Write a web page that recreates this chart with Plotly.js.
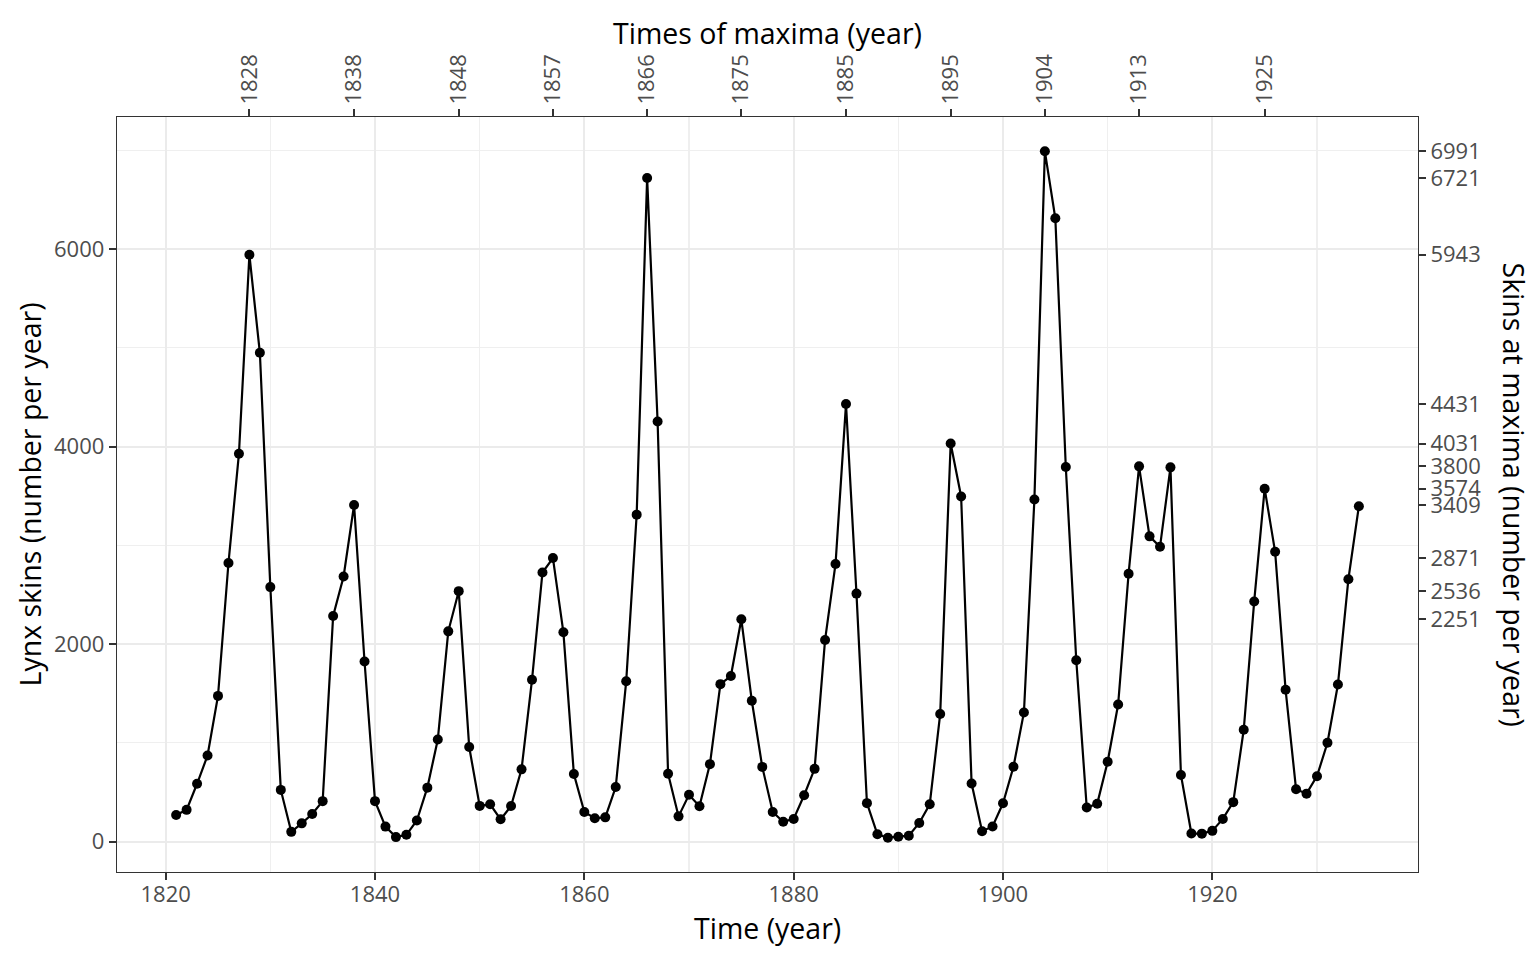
<!DOCTYPE html>
<html>
<head>
<meta charset="utf-8">
<script src="https://cdn.plot.ly/plotly-3.0.1.min.js"></script>
<style>
  html, body { margin: 0; padding: 0; background: #fff; }
  #myDiv { width: 1536px; height: 960px; }
</style>
</head>
<body>
<div id="myDiv"></div>
<script>
// lynx skins per year, 1821-1934
var years = [];
for (var y = 1821; y <= 1934; y++) years.push(y);

var skins = [
  269, 321, 585, 871, 1475, 2821, 3928, 5943, 4950, 2577,
  523, 98, 184, 279, 409, 2285, 2685, 3409, 1824, 409,
  151, 45, 68, 213, 546, 1033, 2129, 2536, 957, 361,
  377, 225, 360, 731, 1638, 2725, 2871, 2119, 684, 299,
  236, 245, 552, 1623, 3311, 6721, 4254, 687, 255, 473,
  358, 784, 1594, 1676, 2251, 1426, 756, 299, 201, 229,
  469, 736, 2042, 2811, 4431, 2511, 389, 73, 39, 49,
  59, 188, 377, 1292, 4031, 3495, 587, 105, 153, 387,
  758, 1307, 3465, 6991, 6313, 3794, 1836, 345, 382, 808,
  1388, 2713, 3800, 3091, 2985, 3790, 674, 81, 80, 108,
  229, 399, 1132, 2432, 3574, 2935, 1537, 529, 485, 662,
  1000, 1590, 2657, 3396
];

// secondary axes: times and sizes of the maxima
var maxYears = [1828, 1838, 1848, 1857, 1866, 1875, 1885, 1895, 1904, 1913, 1925];
var maxSkins = [5943, 3409, 2536, 2871, 6721, 2251, 4431, 4031, 6991, 3800, 3574];

var xTicks = [1820, 1840, 1860, 1880, 1900, 1920];
var yTicks = [0, 2000, 4000, 6000];

var xRange = [1815.35, 1939.65];
var yRange = [-308.6, 7338.6];

var tickFont = {family: 'Open Sans', size: 22, color: '#4D4D4D'};
var titleFont = {family: 'Open Sans', size: 28.5, color: '#000000'};

var trace = {
  x: years,
  y: skins,
  type: 'scatter',
  mode: 'lines+markers',
  line: {color: '#000000', width: 2.2},
  marker: {color: '#000000', size: 10},
  hoverinfo: 'x+y'
};

var layout = {
  width: 1536,
  height: 960,
  margin: {l: 117, r: 118, t: 117, b: 88},
  paper_bgcolor: '#ffffff',
  plot_bgcolor: '#ffffff',
  showlegend: false,
  xaxis: {
    range: xRange,
    tickvals: xTicks,
    ticks: 'outside', ticklen: 7, tickwidth: 2, tickcolor: '#333333',
    ticklabelstandoff: -5,
    tickfont: tickFont,
    showgrid: true, gridcolor: '#EBEBEB', gridwidth: 2,
    minor: {dtick: 10, tick0: 1820, showgrid: true, gridcolor: '#EFEFEF', gridwidth: 1.1, ticks: ''},
    zeroline: false,
    showline: true, mirror: true, linecolor: '#333333', linewidth: 1.3
  },
  yaxis: {
    range: yRange,
    tickvals: yTicks,
    ticks: 'outside', ticklen: 7, tickwidth: 2, tickcolor: '#333333',
    tickfont: tickFont,
    showgrid: true, gridcolor: '#EBEBEB', gridwidth: 2,
    minor: {dtick: 1000, tick0: 0, showgrid: true, gridcolor: '#EFEFEF', gridwidth: 1.1, ticks: ''},
    zeroline: false,
    showline: true, mirror: true, linecolor: '#333333', linewidth: 1.3
  },
  xaxis2: {
    overlaying: 'x', side: 'top', anchor: 'y',
    range: xRange,
    tickvals: maxYears,
    ticktext: maxYears.map(String),
    tickangle: -90,
    ticks: 'outside', ticklen: 7, tickwidth: 2, tickcolor: '#333333',
    tickfont: tickFont,
    showgrid: false, zeroline: false, showline: false
  },
  yaxis2: {
    overlaying: 'y', side: 'right', anchor: 'x',
    range: yRange,
    tickvals: maxSkins,
    ticktext: maxSkins.map(String),
    ticks: 'outside', ticklen: 7, tickwidth: 2, tickcolor: '#333333',
    tickfont: tickFont,
    showgrid: false, zeroline: false, showline: false
  },
  annotations: [
    {text: 'Time (year)', xref: 'paper', yref: 'paper', x: 0.5, y: 0,
     xanchor: 'center', yanchor: 'middle',
     yshift: -56, showarrow: false, font: titleFont},
    {text: 'Times of maxima (year)', xref: 'paper', yref: 'paper', x: 0.5, y: 1,
     xanchor: 'center', yanchor: 'middle',
     yshift: 84, showarrow: false, font: titleFont},
    {text: 'Lynx skins (number per year)', xref: 'paper', yref: 'paper', x: 0, y: 0.5,
     xanchor: 'center', yanchor: 'middle',
     xshift: -88, textangle: -90, showarrow: false, font: titleFont},
    {text: 'Skins at maxima (number per year)', xref: 'paper', yref: 'paper', x: 1, y: 0.5,
     xanchor: 'center', yanchor: 'middle',
     xshift: 96, textangle: 90, showarrow: false, font: titleFont}
  ]
};

// invisible traces so the secondary axes are drawn
var topTrace = {x: [xRange[0]], y: [yRange[0]], xaxis: 'x2', yaxis: 'y', mode: 'markers',
  marker: {opacity: 0}, hoverinfo: 'skip', showlegend: false};
var rightTrace = {x: [xRange[0]], y: [yRange[0]], xaxis: 'x', yaxis: 'y2', mode: 'markers',
  marker: {opacity: 0}, hoverinfo: 'skip', showlegend: false};

Plotly.newPlot('myDiv', [trace, topTrace, rightTrace], layout, {displayModeBar: false, staticPlot: true});
</script>
</body>
</html>
